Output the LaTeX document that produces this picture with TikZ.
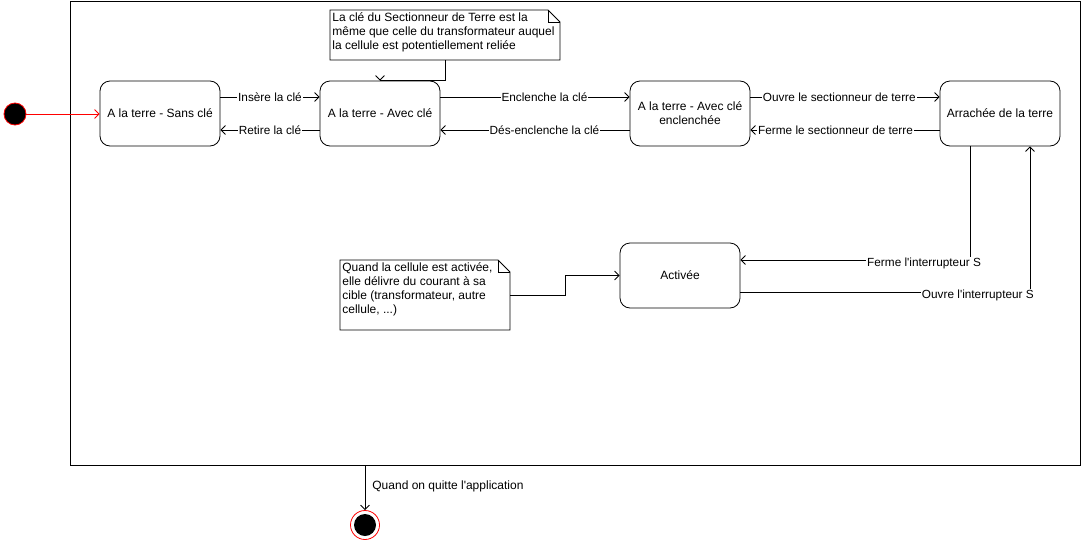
\documentclass[tikz,border=0pt]{standalone}
\usepackage{fontspec}
\setmainfont{Liberation Sans}
\usetikzlibrary{positioning, calc, arrows.meta}

\begin{document}
\begin{tikzpicture}[x=1pt,y=-1pt,line width=0.8pt,
    etat/.style={draw, rounded corners=10pt, minimum width=120pt, minimum height=65pt, inner sep=0pt, align=center, font=\fontsize{12}{14}\selectfont},
    fleche/.style={-{Straight Barb[length=4.5pt,width=9pt]}},
    etiq/.style={fill=white, inner sep=1pt, font=\fontsize{11.8}{13}\selectfont},
    remarque/.style={anchor=north west, inner sep=0pt, align=left, font=\fontsize{12}{14}\selectfont}]
            \useasboundingbox (0,0) rectangle (1081,541);

            %cadre
            \node[draw, anchor=north west, minimum width=1010pt, minimum height=464pt, inner sep=0pt] (cadre) at (70,1) {};

            %etats
            \node[circle, fill=black, draw=red, minimum size=22pt, inner sep=0pt] (debut) at (15,114) {};
            \node[etat] (sansCle) at (160,113.5) {A la terre - Sans clé};
            \node[etat] (avecCle) at (380,113.5) {A la terre - Avec clé};
            \node[etat] (enclenchee) at (690,113.5) {A la terre - Avec clé\\enclenchée};
            \node[etat] (arrachee) at (1000,113.5) {Arrachée de la terre};
            \node[etat] (activee) at (680,275.5) {Activée};
            \node[circle, draw=red, minimum size=29pt, inner sep=0pt] (fin) at (365,525) {};
            \fill (fin) circle (11);

            %notes
            \draw (330,10) -- (548,10) -- (560,22) -- (560,60) -- (330,60) -- cycle;
            \draw (548,10) -- (548,22) -- (560,22);
            \node[remarque] (note1) at (332,12) {La clé du Sectionneur de Terre est la\\même que celle du transformateur auquel\\la cellule est potentiellement reliée};
            \draw (340,260) -- (498,260) -- (510,272) -- (510,330) -- (340,330) -- cycle;
            \draw (498,260) -- (498,272) -- (510,272);
            \node[remarque] (note2) at (342,262) {Quand la cellule est activée,\\elle délivre du courant à sa\\cible (transformateur, autre\\cellule, ...)};
            \coordinate (n1bas) at (445,60);
            \coordinate (n1coude) at (445,80);
            \coordinate (n2droite) at (510,295);

            %transitions
            \draw[red, fleche] (debut) -- (debut -| sansCle.west);
            \draw[fleche] ([yshift=16.5pt]sansCle.east) -- ([yshift=16.5pt]avecCle.west) node[etiq, midway] {Insère la clé};
            \draw[fleche] ([yshift=-16.5pt]avecCle.west) -- ([yshift=-16.5pt]sansCle.east) node[etiq, midway] {Retire la clé};
            \draw[fleche] ([yshift=16.5pt]avecCle.east) -- ([yshift=16.5pt]enclenchee.west) node[etiq, pos=0.55] {Enclenche la clé};
            \draw[fleche] ([yshift=-16.5pt]enclenchee.west) -- ([yshift=-16.5pt]avecCle.east) node[etiq, pos=0.45] {Dés-enclenche la clé};
            \draw[fleche] ([yshift=16.5pt]enclenchee.east) -- ([yshift=16.5pt]arrachee.west) node[etiq, pos=0.47] {Ouvre le sectionneur de terre};
            \draw[fleche] ([yshift=-16.5pt]arrachee.west) -- ([yshift=-16.5pt]enclenchee.east) node[etiq, pos=0.55] {Ferme le sectionneur de terre};
            \draw[fleche] ([xshift=-30pt]arrachee.south) |- ([yshift=15.5pt]activee.east) node[etiq, pos=0.6, yshift=-3pt] {Ferme l\textquotesingle interrupteur S};
            \draw[fleche] ([yshift=-16.5pt]activee.east) -| ([xshift=30pt]arrachee.south) node[etiq, pos=0.41, yshift=-3pt] {Ouvre l\textquotesingle interrupteur S};
            \draw[fleche] (n1bas) -- (n1coude) -| (avecCle.north);
            \draw[fleche] (n2droite) -- (565,295) |- (activee.west);
            \draw[fleche] (cadre.south -| fin) -- (fin.north);
            \node[anchor=west, inner sep=0pt, font=\fontsize{12}{14}\selectfont] (quitte) at (372,486) {Quand on quitte l\textquotesingle application};
        \end{tikzpicture}
\end{document}
